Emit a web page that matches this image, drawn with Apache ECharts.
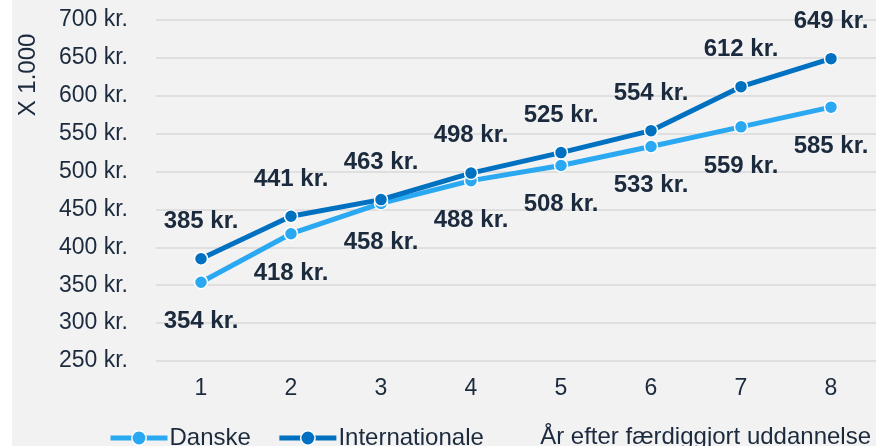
<!DOCTYPE html>
<html>
<head>
<meta charset="utf-8">
<script src="https://cdn.jsdelivr.net/npm/echarts@6/dist/echarts.min.js"></script>
<style>
  html, body { margin: 0; padding: 0; background: #ffffff; }
  #chart { position: absolute; left: 12px; top: 0; width: 864px; height: 446px; background: #f2f2f2; }
</style>
</head>
<body>
<div id="chart"></div>
<script>
// data
const years = ['1', '2', '3', '4', '5', '6', '7', '8'];
const danske = [354, 418, 458, 488, 508, 533, 559, 585];
const internationale = [385, 441, 463, 498, 525, 554, 612, 649];

const textColor = '#1b2a3d';
const fontFam = 'Arial, "Liberation Sans", sans-serif';

const chart = echarts.init(document.getElementById('chart'));

const option = {
  backgroundColor: '#f2f2f2',
  animation: false,
  grid: {
    left: 144,
    right: 0,
    top: 20,
    bottom: 85
  },
  legend: {
    left: 91,
    top: 421,
    itemWidth: 57,
    itemHeight: 18,
    itemGap: 26,
    lineStyle: { width: 5 },
    itemStyle: { borderColor: '#ffffff', borderWidth: 1.5 },
    textStyle: { color: textColor, fontSize: 24, fontFamily: fontFam, padding: [0, 0, 0, -3] },
    data: ['Danske', 'Internationale']
  },
  xAxis: {
    type: 'category',
    data: years,
    axisLine: { show: false },
    axisTick: { show: false },
    axisLabel: { color: textColor, fontSize: 23, fontFamily: fontFam, margin: 16 }
  },
  yAxis: {
    type: 'value',
    min: 250,
    max: 700,
    interval: 50,
    axisLine: { show: false },
    axisTick: { show: false },
    splitLine: { lineStyle: { color: '#d9d9d9', width: 1.5 } },
    axisLabel: {
      color: textColor,
      fontSize: 23,
      fontFamily: fontFam,
      margin: 28,
      formatter: '{value} kr.'
    }
  },
  graphic: [
    {
      type: 'text',
      x: 16,
      y: 75,
      rotation: Math.PI / 2,
      style: {
        text: 'X 1.000',
        fill: textColor,
        fontSize: 24,
        fontFamily: fontFam,
        align: 'center',
        verticalAlign: 'middle'
      }
    },
    {
      type: 'text',
      right: 5,
      top: 425,
      style: {
        text: 'År efter færdiggjort uddannelse',
        fill: textColor,
        fontSize: 24,
        fontFamily: fontFam
      }
    }
  ],
  series: [
    {
      name: 'Danske',
      type: 'line',
      data: danske,
      symbol: 'circle',
      symbolSize: 13,
      color: '#2aa8f2',
      lineStyle: { width: 5, color: '#2aa8f2' },
      itemStyle: { color: '#2aa8f2', borderColor: '#ffffff', borderWidth: 1.5 },
      label: {
        show: true,
        position: 'bottom',
        distance: 20,
        formatter: '{c} kr.',
        color: textColor,
        fontSize: 24,
        fontWeight: 'bold',
        fontFamily: fontFam
      }
    },
    {
      name: 'Internationale',
      type: 'line',
      data: internationale,
      symbol: 'circle',
      symbolSize: 13,
      color: '#0070c0',
      lineStyle: { width: 5, color: '#0070c0' },
      itemStyle: { color: '#0070c0', borderColor: '#ffffff', borderWidth: 1.5 },
      label: {
        show: true,
        position: 'top',
        distance: 18,
        formatter: '{c} kr.',
        color: textColor,
        fontSize: 24,
        fontWeight: 'bold',
        fontFamily: fontFam
      }
    }
  ]
};

chart.setOption(option);
window.addEventListener('resize', () => chart.resize());
</script>
</body>
</html>
